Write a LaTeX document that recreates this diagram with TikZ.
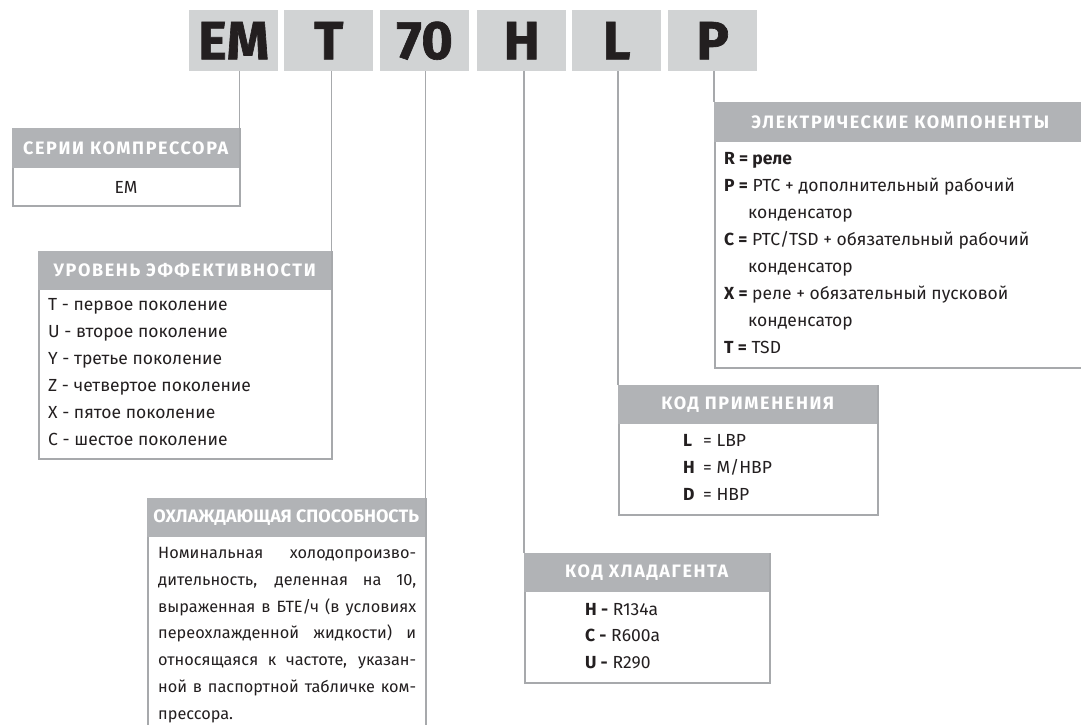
\documentclass[tikz,border=0pt]{standalone}
\usepackage{fontspec}
\setmainfont{Fira Sans}
\newfontfamily\headfont{Fira Sans}[LetterSpace=9]
\newfontfamily\heavyfont{Fira Sans}[FakeBold=1.2]
\definecolor{topfill}{HTML}{D1D3D4}
\definecolor{headfill}{HTML}{B1B3B6}
\definecolor{framec}{HTML}{A7A9AC}
\definecolor{ink}{HTML}{231F20}
\newcommand\jline[1]{\hbox to 258pt{#1}}
\tikzset{
 topbox/.style={fill=topfill, minimum width=89pt, minimum height=61pt, inner sep=0pt, anchor=north west, text=ink, font=\heavyfont\fontsize{54}{54}\selectfont\bfseries},
 bodybox/.style={draw=framec, line width=1.5pt, fill=white, anchor=north west, inner sep=0pt},
 headbox/.style={fill=headfill, anchor=north west, inner sep=0pt, text=white, font=\headfont\fontsize{18}{18}\selectfont\bfseries},
 conn/.style={draw=framec, line width=1.8pt},
 txt/.style={text=ink, font=\fontsize{17.5}{27}\selectfont, align=left, inner sep=0pt, anchor=north west},
}
\begin{document}
\begin{tikzpicture}[x=1pt,y=-1pt]
\useasboundingbox[fill=white] (0,0) rectangle (1081,724);
% top code boxes
\node[topbox] (em) at (189,10) {EM};
\node[topbox] (tt) at (284,10) {T};
\node[topbox] (n70) at (380,10) {70};
\node[topbox] (hh) at (477,10) {H};
\node[topbox] (ll) at (572,10) {L};
\node[topbox] (pp) at (668,10) {P};

% series
\node[bodybox, minimum width=227pt, minimum height=77pt] (serbody) at (12,128) {};
\node[headbox, minimum width=227pt, minimum height=40pt] (serhead) at (12,128) {СЕРИИ КОМПРЕССОРА};
\node[text=ink, font=\fontsize{17.5}{27}\selectfont] (sertxt) at (126,187) {EM};

% efficiency
\node[bodybox, minimum width=293pt, minimum height=207pt] (effbody) at (38,251) {};
\node[headbox, minimum width=293pt, minimum height=39pt] (effhead) at (38,251) {УРОВЕНЬ ЭФФЕКТИВНОСТИ};
\node[txt] (efftxt) at (48,298) {T - первое поколение\\U - второе поколение\\Y - третье поколение\\Z - четвертое поколение\\X - пятое поколение\\C - шестое поколение};

% cooling capacity
\node[bodybox, minimum width=278pt, minimum height=240pt] (capbody) at (147,498) {};
\node[headbox, minimum width=278pt, minimum height=39pt, font=\fontsize{18}{18}\selectfont\bfseries] (caphead) at (147,498) {ОХЛАЖДАЮЩАЯ СПОСОБНОСТЬ};
\node[txt, font=\fontsize{16.3}{26.7}\selectfont] (captxt) at (158,547.4) {\jline{Номинальная холодопроизво-}\\\jline{дительность, деленная на 10,}\\\jline{выраженная в БТЕ/ч (в условиях}\\\jline{переохлажденной жидкости) и}\\\jline{относящаяся к частоте, указан-}\\\jline{ной в паспортной табличке ком-}\\прессора.};

% refrigerant
\node[bodybox, minimum width=245pt, minimum height=129pt] (refbody) at (524,553) {};
\node[headbox, minimum width=245pt, minimum height=39pt] (refhead) at (524,553) {КОД ХЛАДАГЕНТА};
\node[txt, font=\fontsize{17.5}{26.5}\selectfont] (reftxt) at (585,603) {\textbf{H -} R134a\\\textbf{C -} R600a\\\textbf{U -} R290};

% application
\node[bodybox, minimum width=259pt, minimum height=129pt] (appbody) at (618,385) {};
\node[headbox, minimum width=259pt, minimum height=39pt] (apphead) at (618,385) {КОД ПРИМЕНЕНИЯ};
\node[txt] (apptxt) at (683,434) {\makebox[20pt][l]{\textbf{L}}= LBP\\\makebox[20pt][l]{\textbf{H}}= M/HBP\\\makebox[20pt][l]{\textbf{D}}= HBP};

% electrical
\node[bodybox, minimum width=376pt, minimum height=265pt] (elbody) at (714,102) {};
\node[headbox, minimum width=372pt, minimum height=40pt] (elhead) at (714,102) {ЭЛЕКТРИЧЕСКИЕ КОМПОНЕНТЫ};
\node[txt] (eltxt) at (724,152) {\textbf{R = реле}\\\textbf{P =} PTC + дополнительный рабочий\\\hspace*{24pt}конденсатор\\\textbf{C =} PTC/TSD + обязательный рабочий\\\hspace*{24pt}конденсатор\\\textbf{X =} реле + обязательный пусковой\\\hspace*{24pt}конденсатор\\\textbf{T =} TSD};

% connectors
\draw[conn] (em.south -| serhead.north east) -- (serhead.north east);
\draw[conn] (tt.south -| effhead.north east) -- (effhead.north east);
\draw[conn] (n70.south -| caphead.north east) -- (caphead.north east);
\draw[conn] (hh.south -| refhead.north west) -- (refhead.north west);
\draw[conn] (ll.south -| apphead.north west) -- (apphead.north west);
\draw[conn] (pp.south -| elhead.north west) -- (elhead.north west);
\end{tikzpicture}
\end{document}
